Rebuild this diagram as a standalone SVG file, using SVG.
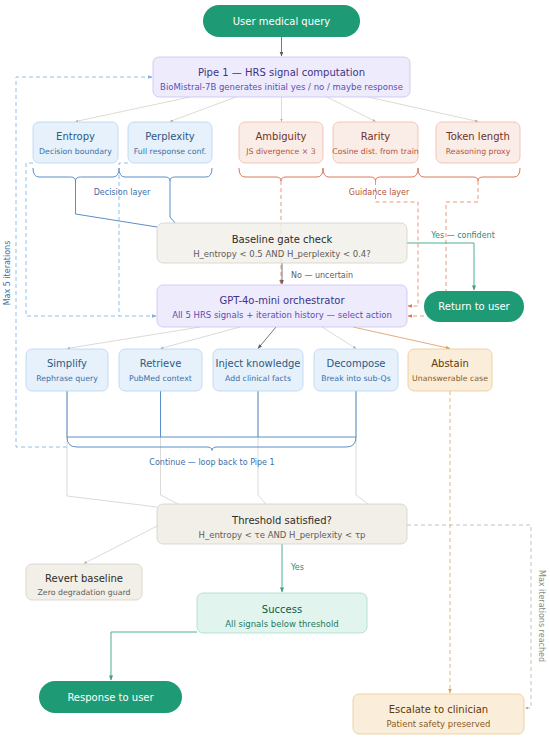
<svg xmlns="http://www.w3.org/2000/svg" width="550" height="740" viewBox="0 0 550 740">
<defs>
<marker id="mDark" viewBox="0 0 6 6" refX="5.5" refY="3" markerWidth="5" markerHeight="5" orient="auto"><path d="M0,0.5 L6,3 L0,5.5 z" fill="#5F5E5A"/></marker>
<marker id="mGray" viewBox="0 0 6 6" refX="5.5" refY="3" markerWidth="4" markerHeight="4" orient="auto"><path d="M0,0.5 L6,3 L0,5.5 z" fill="#A9A7A0"/></marker>
<marker id="mBlue" viewBox="0 0 6 6" refX="5.5" refY="3" markerWidth="5" markerHeight="5" orient="auto"><path d="M0,0.5 L6,3 L0,5.5 z" fill="#7FAEE0"/></marker>
<marker id="mOrange" viewBox="0 0 6 6" refX="5.5" refY="3" markerWidth="5" markerHeight="5" orient="auto"><path d="M0,0.5 L6,3 L0,5.5 z" fill="#D9795A"/></marker>
<marker id="mTeal" viewBox="0 0 6 6" refX="5.5" refY="3" markerWidth="5" markerHeight="5" orient="auto"><path d="M0,0.5 L6,3 L0,5.5 z" fill="#3E9F80"/></marker>
<marker id="mAmber" viewBox="0 0 6 6" refX="5.5" refY="3" markerWidth="5" markerHeight="5" orient="auto"><path d="M0,0.5 L6,3 L0,5.5 z" fill="#D9A35E"/></marker>
</defs>
<style>
text{font-family:"DejaVu Sans","Liberation Sans",sans-serif;text-anchor:middle}
.t{font-size:10px}
.s{font-size:7.8px}
.sw{font-size:8.5px}
.lbl{font-size:8px}
.pill{fill:#1E9B74}
.lav{fill:#EEEBFC;stroke:#C8C2EF;stroke-width:0.8}
.lavT{fill:#3C3489}.lavS{fill:#5B4FB5}
.blu{fill:#E6F1FB;stroke:#B5D4F4;stroke-width:0.8}
.bluT{fill:#2C5A85}.bluS{fill:#3B6FA8}
.cor{fill:#FAECE7;stroke:#EDBBA8;stroke-width:0.8}
.corT{fill:#6E3425}.corS{fill:#B4533A}
.bei{fill:#F1EFE8;stroke:#D3D1C7;stroke-width:0.8}
.beiT{fill:#2C2C2A}.beiS{fill:#5F5E5A}
.tea{fill:#E1F5EE;stroke:#A6DCC8;stroke-width:0.8}
.teaT{fill:#0F5A45}.teaS{fill:#1D7A5E}
.amb{fill:#FAEEDA;stroke:#EBC890;stroke-width:0.8}
.ambT{fill:#633806}.ambS{fill:#8A5A1F}
.c{fill:none}
.gray{stroke:#D3D1CB;stroke-width:0.8}
.dark{stroke:#6B6A66;stroke-width:0.9}
.blue{stroke:#5B8FC9;stroke-width:1}
.bdash{stroke:#85B7EB;stroke-width:0.9;stroke-dasharray:4 3}
.odash{stroke:#E0906F;stroke-width:0.9;stroke-dasharray:4 3}
.orange{stroke:#D9795A;stroke-width:1}
.oline{stroke:#E0A070;stroke-width:0.9}
.teal{stroke:#4DAF8F;stroke-width:1}
.adash{stroke:#E0AE6E;stroke-width:0.9;stroke-dasharray:4 3}
.gdash{stroke:#B4B2A9;stroke-width:0.8;stroke-dasharray:4 3}
</style>
<rect x="0" y="0" width="550" height="740" fill="#FFFFFF"/>

<g id="connectors">
  <path class="c dark" d="M281.5 37 V56" marker-end="url(#mDark)"/>
  <path class="c gray" d="M190 97 L75.5 121.5" marker-end="url(#mGray)"/>
  <path class="c gray" d="M236 97 L170 121.5" marker-end="url(#mGray)"/>
  <path class="c gray" d="M281.5 97 V121.5" marker-end="url(#mGray)"/>
  <path class="c gray" d="M327 97 L375.5 121.5" marker-end="url(#mGray)"/>
  <path class="c gray" d="M368 97 L478 121.5" marker-end="url(#mGray)"/>
  <path class="c blue" d="M33 168 Q33 177 39 177 H70.5 Q75.5 177 75.5 181 Q75.5 177 80.5 177 H113 Q119 177 119 168"/>
  <path class="c blue" d="M119 168 Q119 177 125 177 H165 Q170 177 170 181 Q170 177 175 177 H206 Q212 177 212 168"/>
  <path class="c orange" d="M239 168 Q239 177 245 177 H276 Q281 177 281 181 Q281 177 286 177 H317 Q323 177 323 168"/>
  <path class="c orange" d="M323 168 Q323 177 329 177 H370.5 Q375.5 177 375.5 181 Q375.5 177 380.5 177 H412 Q418 177 418 168"/>
  <path class="c orange" d="M418 168 Q418 177 424 177 H473 Q478 177 478 181 Q478 177 483 177 H514 Q520 177 520 168"/>
  <path class="c blue" d="M75.5 181 V214 L157 227"/>
  <path class="c blue" d="M170 181 V217 L175 223"/>
  <path class="c bdash" d="M33 163 H26 V316 H156" marker-end="url(#mBlue)"/>
  <path class="c bdash" d="M128 163 H119 V316"/>
  <path class="c odash" d="M281 181 V284" marker-end="url(#mOrange)"/>
  <path class="c odash" d="M375.5 181 V202 H418 V306 H408" marker-end="url(#mOrange)"/>
  <path class="c odash" d="M478 181 V202 H446 V316 H408" marker-end="url(#mOrange)"/>
  <path class="c teal" d="M407 243 H474 V290" marker-end="url(#mTeal)"/>
  <path class="c dark" d="M282 263 V284" marker-end="url(#mDark)"/>
  <path class="c gray" d="M200 327 L67 348.5" marker-end="url(#mGray)"/>
  <path class="c gray" d="M240 327 L160.5 348.5" marker-end="url(#mGray)"/>
  <path class="c dark" d="M276 327 L258 348.5" marker-end="url(#mDark)"/>
  <path class="c gray" d="M322 327 L356 348.5" marker-end="url(#mGray)"/>
  <path class="c oline" d="M353 327 L450 348.5" marker-end="url(#mAmber)"/>
  <path class="c gray" d="M67 391 V496 L157 507"/>
  <path class="c gray" d="M160.5 391 V495 L178 504"/>
  <path class="c gray" d="M258 391 V495 L266 504"/>
  <path class="c gray" d="M356 391 V495 L368 504"/>
  <path class="c blue" d="M67 391 V437 M160.5 391 V437 M258 391 V437 M356 391 V437 M67 437 H356"/>
  <path class="c blue" d="M67 437 Q67 447 77 447 H207 Q212 447 212 450.5 Q212 447 217 447 H346 Q356 447 356 437"/>
  <path class="c bdash" d="M67 447 H16 V77 H152" marker-end="url(#mBlue)"/>
  <path class="c gray" d="M157 526 L84 563.5" marker-end="url(#mGray)"/>
  <path class="c teal" d="M282 544 V592" marker-end="url(#mTeal)"/>
  <path class="c teal" d="M197 632 H111 V680" marker-end="url(#mTeal)"/>
  <path class="c adash" d="M450 391 V693" marker-end="url(#mAmber)"/>
  <path class="c gdash" d="M407 525 H531 V708 H525" marker-end="url(#mGray)"/>
  <text class="lbl" x="122" y="195" fill="#3B6FA8">Decision layer</text>
  <text class="lbl" x="379" y="195" fill="#B4533A">Guidance layer</text>
  <text class="lbl" x="463" y="238" fill="#2E8A6C">Yes — confident</text>
  <text class="lbl" x="291" y="278" fill="#5F5E5A" style="text-anchor:start">No — uncertain</text>
  <text class="lbl" x="212" y="465" fill="#3B6FA8">Continue — loop back to Pipe 1</text>
  <text class="lbl" x="291" y="570" fill="#2E8A6C" style="text-anchor:start">Yes</text>
  <text class="lbl" transform="translate(10 273) rotate(-90)" fill="#3B6FA8">Max 5 iterations</text>
  <text class="lbl" transform="translate(539 616) rotate(90)" fill="#888780">Max iterations reached</text>
</g>

<g id="query"><rect class="pill" x="203" y="5" width="157" height="32" rx="16"/><text class="t" x="281.5" y="24.5" fill="#FFFFFF">User medical query</text></g>
<g id="pipe1"><rect class="lav" x="153" y="57" width="257" height="40" rx="6"/><text class="t lavT" x="281.5" y="76">Pipe 1 — HRS signal computation</text><text class="sw lavS" x="281.5" y="90">BioMistral-7B generates initial yes / no / maybe response</text></g>

<g id="entropy"><rect class="blu" x="33" y="122" width="85" height="41" rx="6"/><text class="t bluT" x="75.5" y="140">Entropy</text><text class="s bluS" x="75.5" y="154">Decision boundary</text></g>
<g id="perplexity"><rect class="blu" x="128" y="122" width="84" height="41" rx="6"/><text class="t bluT" x="170" y="140">Perplexity</text><text class="s bluS" x="170" y="154">Full response conf.</text></g>
<g id="ambiguity"><rect class="cor" x="239" y="122" width="84" height="41" rx="6"/><text class="t corT" x="281" y="140">Ambiguity</text><text class="s corS" x="281" y="154">JS divergence × 3</text></g>
<g id="rarity"><rect class="cor" x="333" y="122" width="85" height="41" rx="6"/><text class="t corT" x="375.5" y="140">Rarity</text><text class="s corS" x="375.5" y="154">Cosine dist. from train</text></g>
<g id="tokenlength"><rect class="cor" x="436" y="122" width="84" height="41" rx="6"/><text class="t corT" x="478" y="140">Token length</text><text class="s corS" x="478" y="154">Reasoning proxy</text></g>

<g id="baseline"><rect class="bei" x="157" y="223" width="250" height="40" rx="6" fill-opacity="0.8"/><text class="t beiT" x="282" y="243">Baseline gate check</text><text class="sw beiS" x="282" y="257">H_entropy &lt; 0.5 AND H_perplexity &lt; 0.4?</text></g>
<g id="orchestrator"><rect class="lav" x="157" y="285" width="250" height="42" rx="6"/><text class="t lavT" x="282" y="304">GPT-4o-mini orchestrator</text><text class="sw lavS" x="282" y="318">All 5 HRS signals + iteration history — select action</text></g>
<g id="return"><rect class="pill" x="424" y="291" width="100" height="31" rx="15.5"/><text class="t" x="474" y="310" fill="#FFFFFF">Return to user</text></g>

<g id="simplify"><rect class="blu" x="26" y="349" width="82" height="42" rx="6"/><text class="t bluT" x="67" y="366.5">Simplify</text><text class="s bluS" x="67" y="380.5">Rephrase query</text></g>
<g id="retrieve"><rect class="blu" x="119" y="349" width="83" height="42" rx="6"/><text class="t bluT" x="160.5" y="366.5">Retrieve</text><text class="s bluS" x="160.5" y="380.5">PubMed context</text></g>
<g id="inject"><rect class="blu" x="213" y="349" width="90" height="42" rx="6"/><text class="t bluT" x="258" y="366.5">Inject knowledge</text><text class="s bluS" x="258" y="380.5">Add clinical facts</text></g>
<g id="decompose"><rect class="blu" x="314" y="349" width="84" height="42" rx="6"/><text class="t bluT" x="356" y="366.5">Decompose</text><text class="s bluS" x="356" y="380.5">Break into sub-Qs</text></g>
<g id="abstain"><rect class="amb" x="408" y="349" width="84" height="42" rx="6"/><text class="t ambT" x="450" y="366.5">Abstain</text><text class="s ambS" x="450" y="380.5">Unanswerable case</text></g>

<g id="threshold"><rect class="bei" x="157" y="504" width="250" height="40" rx="6"/><text class="t beiT" x="282" y="523.5">Threshold satisfied?</text><text class="sw beiS" x="282" y="537.5">H_entropy &lt; τe AND H_perplexity &lt; τp</text></g>
<g id="revert"><rect class="bei" x="26" y="564" width="116" height="36" rx="6"/><text class="t beiT" x="84" y="581.5">Revert baseline</text><text class="s beiS" x="84" y="594.5">Zero degradation guard</text></g>
<g id="success"><rect class="tea" x="197" y="593" width="170" height="40" rx="6"/><text class="t teaT" x="282" y="612.5">Success</text><text class="sw teaS" x="282" y="626.5">All signals below threshold</text></g>
<g id="response"><rect class="pill" x="39" y="681" width="143" height="32" rx="16"/><text class="t" x="110.5" y="700.5" fill="#FFFFFF">Response to user</text></g>
<g id="escalate"><rect class="amb" x="353" y="694" width="171" height="40" rx="6"/><text class="t ambT" x="438.5" y="713">Escalate to clinician</text><text class="sw ambS" x="438.5" y="727">Patient safety preserved</text></g>
</svg>
